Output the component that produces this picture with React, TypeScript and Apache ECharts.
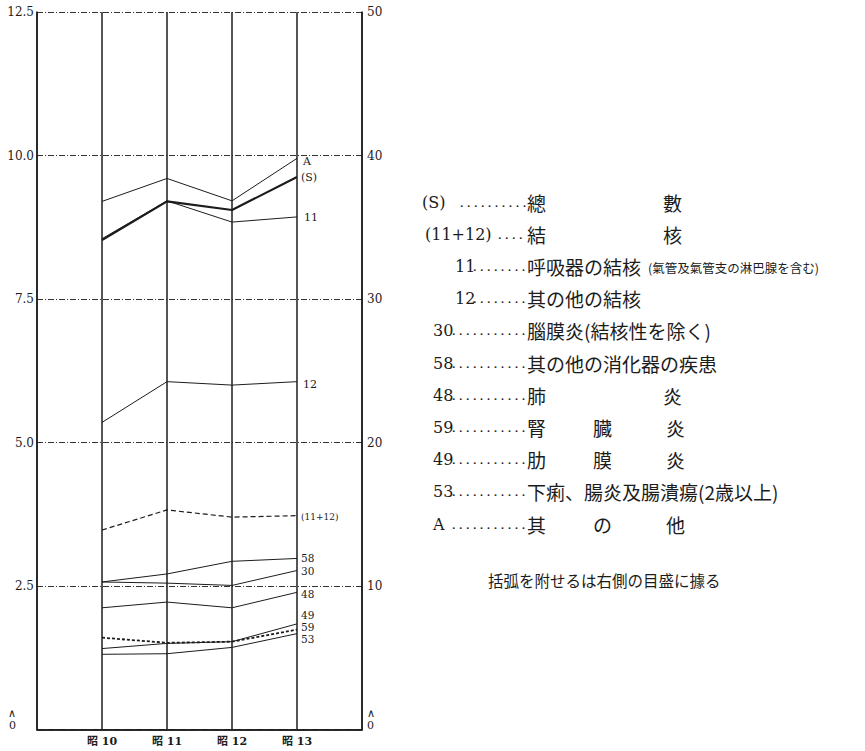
import React, { useEffect, useRef } from "react";
import * as echarts from "echarts";

// ---- data ----
const categories = ["昭 10", "昭 11", "昭 12", "昭 13"];
const leftTicks = ["0", "2.5", "5.0", "7.5", "10.0", "12.5"];
const rightTicks = ["0", "10", "20", "30", "40", "50"];

// left scale
const seriesA = [9.2, 9.6, 9.21, 9.95];
const series11 = [8.55, 9.21, 8.84, 8.93];
const series12 = [5.35, 6.06, 6.0, 6.06];
const series58 = [2.57, 2.71, 2.93, 2.98];
const series30 = [2.57, 2.55, 2.51, 2.77];
const series48 = [2.12, 2.22, 2.12, 2.39];
const series49 = [1.41, 1.5, 1.53, 1.84];
const series59 = [1.6, 1.51, 1.53, 1.74];
const series53 = [1.31, 1.32, 1.43, 1.67];
// right scale (parenthesised series)
const seriesS = [34.1, 36.8, 36.2, 38.5];
const series11p12 = [13.9, 15.3, 14.8, 14.9];

const legendCodes = ["(S)", "(11+12)", "11", "12", "30", "58", "48", "59", "49", "53", "A"];
const legendTexts = [
  ["總", "數"],
  ["結", "核"],
  ["呼吸器の結核"],
  ["其の他の結核"],
  ["腦膜炎(結核性を除く)"],
  ["其の他の消化器の疾患"],
  ["肺", "炎"],
  ["腎", "臓", "炎"],
  ["肋", "膜", "炎"],
  ["下痢、腸炎及腸潰瘍(2歳以上)"],
  ["其", "の", "他"],
];
const legendSubNote = "(氣管及氣管支の淋巴腺を含む)";
const footNote = "括弧を附せるは右側の目盛に據る";

const SERIF = "DejaVu Serif, Noto Sans CJK JP";
const JP = "Noto Sans CJK JP";
const INK = "#1c1c1c";

export default function App() {
  const ref = useRef<HTMLDivElement>(null);
  useEffect(() => {
    if (!ref.current) return;
    const chart = echarts.init(ref.current, null, { renderer: "svg" });

    const mk = (
      name: string,
      values: number[],
      axis: number,
      width: number,
      type: any,
      offset: number[],
      fontSize = 11
    ) => ({
      type: "line",
      name,
      yAxisIndex: axis,
      data: values.map((v, i) => [10 + i, v]),
      symbol: "none",
      silent: true,
      lineStyle: { color: INK, width, type },
      endLabel: {
        show: true,
        formatter: name,
        offset,
        distance: 4,
        fontSize,
        lineHeight: Math.round(fontSize * 0.95),
        fontFamily: SERIF,
        color: INK,
      },
    });

    const series = [
      mk("A", seriesA, 0, 1, "solid", [2, 3]),
      mk("(S)", seriesS, 1, 2.2, "solid", [0, 0]),
      mk("11", series11, 0, 1, "solid", [3, 1]),
      mk("12", series12, 0, 1, "solid", [2, 3]),
      mk("(11+12)", series11p12, 1, 1.2, [5, 3], [0, 1], 9),
      mk("58", series58, 0, 1, "solid", [0, 0], 10.5),
      mk("30", series30, 0, 1, "solid", [0, 0], 10.5),
      mk("48", series48, 0, 1, "solid", [0, 2], 10.5),
      mk("49", series49, 0, 1, "solid", [0, -9], 10.5),
      mk("59", series59, 0, 1.8, [3, 2], [0, -3], 10.5),
      mk("53", series53, 0, 1, "solid", [0, 5], 10.5),
    ];

    const zeroRichLeft = {
      z: { fontSize: 11, fontFamily: SERIF, color: INK, lineHeight: 12, padding: [0, 18, 20, 0] },
    };
    const zeroRichRight = {
      z: { fontSize: 11, fontFamily: SERIF, color: INK, lineHeight: 12, padding: [0, 0, 20, 0] },
    };

    const graphics: any[] = [];
    const rowY0 = 202;
    const rowStep = 32.2;
    const codeX = [422, 425, 455, 455, 433, 433, 433, 433, 433, 433, 433];
    const dotsFrom = [460, 498, 473, 473, 452, 452, 452, 452, 452, 452, 452];
    legendCodes.forEach((code, i) => {
      const y = rowY0 + i * rowStep;
      graphics.push({
        type: "text",
        x: codeX[i],
        y,
        style: { text: code, fontSize: 16, fontFamily: SERIF, fill: INK, verticalAlign: "middle", align: "left" },
      });
      const dotCount = Math.max(2, Math.round((524 - dotsFrom[i]) / 6.5));
      graphics.push({
        type: "text",
        x: dotsFrom[i],
        y: y + 3,
        style: {
          text: "·".repeat(dotCount).split("").join(" "),
          fontSize: 10,
          fontWeight: "bold",
          fontFamily: SERIF,
          fill: "#222",
          verticalAlign: "middle",
          align: "left",
        },
      });
      const parts = legendTexts[i];
      const slots = parts.length === 1 ? [527] : parts.length === 2 ? [527, 663] : [527, 593, 666];
      parts.forEach((p, k) => {
        graphics.push({
          type: "text",
          x: slots[k],
          y,
          style: { text: p, fontSize: 19, fontFamily: JP, fill: INK, verticalAlign: "middle", align: "left" },
        });
      });
      if (i === 2) {
        graphics.push({
          type: "text",
          x: 648,
          y: y + 1,
          style: { text: legendSubNote, fontSize: 12.5, fontFamily: JP, fill: INK, verticalAlign: "middle", align: "left" },
        });
      }
    });
    graphics.push({
      type: "text",
      x: 488,
      y: 580,
      style: { text: footNote, fontSize: 15.5, fontFamily: JP, fill: INK, verticalAlign: "middle", align: "left" },
    });

    chart.setOption({
      animation: false,
      backgroundColor: "#fff",
      grid: { left: 37, right: 503, top: 12, bottom: 18, containLabel: false },
      xAxis: [
        {
          type: "value",
          min: 9,
          max: 14,
          interval: 1,
          position: "bottom",
          axisLine: { show: true, lineStyle: { color: INK, width: 1.5 } },
          axisTick: { show: false },
          splitLine: { show: true, lineStyle: { color: INK, width: 1.5 } },
          axisLabel: {
            margin: 6,
            fontSize: 11,
            fontWeight: "bold",
            fontFamily: SERIF,
            color: INK,
            formatter: (v: number) => categories[Math.round(v) - 10] ?? "",
          },
        },
        {
          type: "value",
          min: 9,
          max: 14,
          position: "top",
          axisLine: { show: true, lineStyle: { color: INK, width: 1.5 } },
          axisTick: { show: false },
          axisLabel: { show: false },
          splitLine: { show: false },
        },
      ],
      yAxis: [
        {
          type: "value",
          min: 0,
          max: 12.5,
          interval: 2.5,
          position: "left",
          axisLine: { show: true, lineStyle: { color: INK, width: 1.5 } },
          axisTick: { show: false },
          splitLine: { show: true, lineStyle: { color: "#333", width: 1, type: [6, 2, 1, 2] } },
          axisLabel: {
            margin: 3,
            fontSize: 12,
            fontFamily: SERIF,
            color: INK,
            formatter: (v: number) => {
              const i = Math.round(v / 2.5);
              return i === 0 ? "{z|∧}\n{z|" + leftTicks[0] + "}" : leftTicks[i];
            },
            rich: zeroRichLeft,
          },
        },
        {
          type: "value",
          min: 0,
          max: 50,
          interval: 10,
          position: "right",
          axisLine: { show: true, lineStyle: { color: INK, width: 1.5 } },
          axisTick: { show: false },
          splitLine: { show: false },
          axisLabel: {
            margin: 5,
            fontSize: 12,
            fontFamily: SERIF,
            color: INK,
            formatter: (v: number) => {
              const i = Math.round(v / 10);
              return i === 0 ? "{z|∧}\n{z|" + rightTicks[0] + "}" : rightTicks[i];
            },
            rich: zeroRichRight,
          },
        },
      ],
      series,
      graphic: graphics,
    });
    return () => chart.dispose();
  }, []);
  return <div ref={ref} style={{ width: 865, height: 751, position: "absolute", left: 0, top: 0, overflow: "hidden" }} />;
}
